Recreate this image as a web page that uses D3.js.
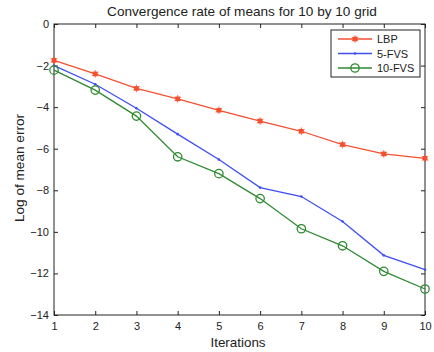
<!DOCTYPE html>
<html>
<head>
<meta charset="utf-8">
<script src="https://cdn.jsdelivr.net/npm/d3@7"></script>
<style>
  body { margin: 0; background: #fff; }
  text { font-family: "Liberation Sans", Arial, sans-serif; fill: #222; }
</style>
</head>
<body>
<svg id="chart" width="434" height="352"></svg>
<script>
// values
const iterations = [1, 2, 3, 4, 5, 6, 7, 8, 9, 10];
const lbp   = [-1.75, -2.4, -3.1, -3.6, -4.15, -4.67, -5.16, -5.8, -6.25, -6.46];
const fvs5  = [-2.0, -2.9, -4.05, -5.3, -6.52, -7.87, -8.3, -9.5, -11.13, -11.82];
const fvs10 = [-2.22, -3.18, -4.43, -6.39, -7.2, -8.4, -9.85, -10.67, -11.9, -12.75];
const yTicks = [0, -2, -4, -6, -8, -10, -12, -14];

const series = [
  { name: 'LBP', values: lbp, color: '#f5502f', marker: 'star' },
  { name: '5-FVS', values: fvs5, color: '#3f4ff0', marker: 'dot' },
  { name: '10-FVS', values: fvs10, color: '#2f8a32', marker: 'circle' }
];

const svg = d3.select('#chart');
const m = { left: 54, right: 425, top: 24, bottom: 315 };

const x = d3.scaleLinear().domain([1, 10]).range([m.left, m.right]);
const y = d3.scaleLinear().domain([-14, 0]).range([m.bottom, m.top]);

// frame
svg.append('rect')
  .attr('x', m.left).attr('y', m.top)
  .attr('width', m.right - m.left).attr('height', m.bottom - m.top)
  .attr('fill', 'none').attr('stroke', '#222').attr('stroke-width', 1);

// axes, ticks inward like matlab
let ax = svg.append('g').attr('transform', `translate(0,${m.bottom})`)
  .call(d3.axisBottom(x).tickValues(iterations).tickSize(-4).tickPadding(7));
let axTop = svg.append('g').attr('transform', `translate(0,${m.top})`)
  .call(d3.axisTop(x).tickValues(iterations).tickSize(-4).tickFormat(''));
let ay = svg.append('g').attr('transform', `translate(${m.left},0)`)
  .call(d3.axisLeft(y).tickValues(yTicks).tickSize(-4).tickPadding(5)
    .tickFormat(d => d < 0 ? '\u2212' + Math.abs(d) : d));
let ayR = svg.append('g').attr('transform', `translate(${m.right},0)`)
  .call(d3.axisRight(y).tickValues(yTicks).tickSize(-4).tickFormat(''));

[ax, axTop, ay, ayR].forEach(g => {
  g.select('.domain').remove();
  g.selectAll('.tick line').attr('stroke', '#222');
  g.selectAll('.tick text').style('font-size', '11px').attr('fill', '#222');
});

const line = d3.line().x((d, i) => x(iterations[i])).y(d => y(d));

function drawMarker(g, type, color, cx, cy) {
  if (type === 'star') {
    g.append('path')
      .attr('d', d3.symbol(d3.symbolSquare, 22)())
      .attr('transform', `translate(${cx},${cy})`)
      .attr('fill', color);
    g.append('path')
      .attr('d', d3.symbol(d3.symbolAsterisk || d3.symbolCross, 40)())
      .attr('transform', `translate(${cx},${cy})`)
      .attr('fill', color).attr('stroke', color).attr('stroke-width', 0.8);
  } else if (type === 'dot') {
    g.append('circle').attr('cx', cx).attr('cy', cy).attr('r', 1.3).attr('fill', color);
  } else {
    g.append('circle').attr('cx', cx).attr('cy', cy).attr('r', 4.2)
      .attr('fill', 'none').attr('stroke', color).attr('stroke-width', 1.3);
  }
}

series.forEach(s => {
  svg.append('path')
    .datum(s.values)
    .attr('d', line)
    .attr('fill', 'none')
    .attr('stroke', s.color)
    .attr('stroke-width', 1.3);
  const g = svg.append('g');
  s.values.forEach((v, i) => drawMarker(g, s.marker, s.color, x(iterations[i]), y(v)));
});

// legend
const lg = svg.append('g');
lg.append('rect').attr('x', 331).attr('y', 30).attr('width', 89).attr('height', 47)
  .attr('fill', '#fff').attr('stroke', '#222').attr('stroke-width', 1);
series.forEach((s, i) => {
  const ly = 39 + i * 14.5;
  lg.append('line').attr('x1', 338).attr('x2', 372).attr('y1', ly).attr('y2', ly)
    .attr('stroke', s.color).attr('stroke-width', 1.3);
  drawMarker(lg, s.marker, s.color, 355, ly);
  lg.append('text').attr('x', 377).attr('y', ly + 4)
    .style('font-size', '11px').text(s.name);
});

// titles
svg.append('text').attr('x', 242).attr('y', 16).attr('text-anchor', 'middle')
  .style('font-size', '13.6px').text('Convergence rate of means for 10 by 10 grid');
svg.append('text').attr('x', 238).attr('y', 347).attr('text-anchor', 'middle')
  .style('font-size', '13.4px').text('Iterations');
svg.append('text').attr('transform', 'translate(24,168) rotate(-90)')
  .attr('text-anchor', 'middle').style('font-size', '13.6px').text('Log of mean error');
</script>
</body>
</html>
